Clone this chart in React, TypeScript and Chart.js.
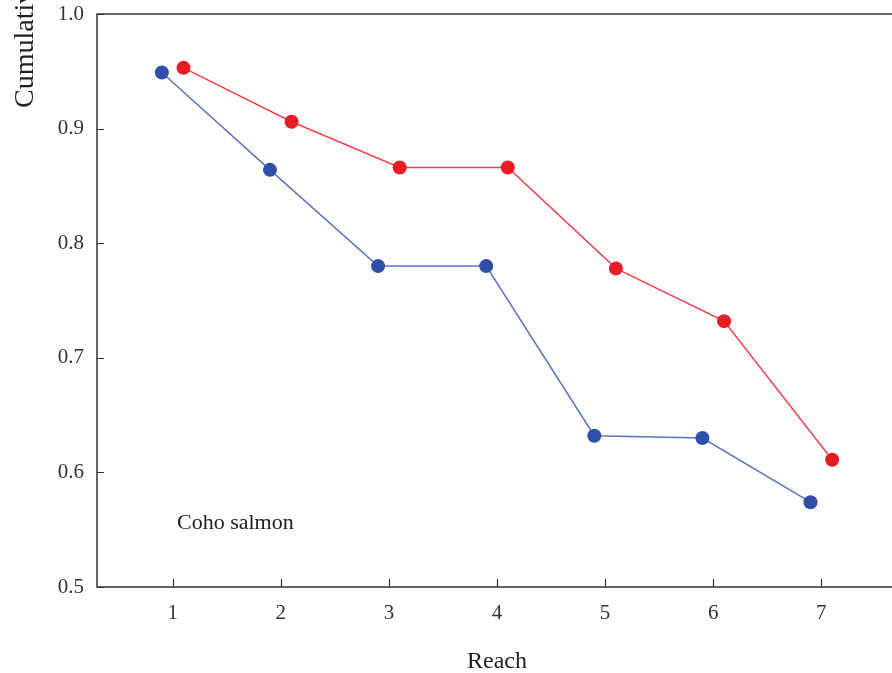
import React, { useEffect, useRef } from "react";
import { Chart, registerables } from "chart.js";

Chart.register(...registerables);

const reaches = [1, 2, 3, 4, 5, 6, 7];
const blueValues = [0.949, 0.864, 0.78, 0.78, 0.632, 0.63, 0.574];
const redValues = [0.953, 0.906, 0.866, 0.866, 0.778, 0.732, 0.611];
const xTicks = [1, 2, 3, 4, 5, 6, 7];
const yTicks = [0.5, 0.6, 0.7, 0.8, 0.9, 1.0];
const yTickLabels = ["0.5", "0.6", "0.7", "0.8", "0.9", "1.0"];
const xTitle = "Reach";
const yTitle = "Cumulative survival probability";
const annotation = "Coho salmon";

const SERIF = "'Liberation Serif', 'Times New Roman', serif";

export default function App() {
  const ref = useRef<HTMLCanvasElement | null>(null);
  useEffect(() => {
    if (!ref.current) return;
    const framePlugin = {
      id: "frame",
      afterDraw(chart: any) {
        const { ctx, chartArea: a, scales } = chart;
        const xs = scales.x, ys = scales.y;
        ctx.save();
        ctx.strokeStyle = "#333";
        ctx.lineWidth = 1.5;
        ctx.strokeRect(a.left, a.top, a.right - a.left, a.bottom - a.top);
        ctx.lineWidth = 1.2;
        ctx.beginPath();
        xTicks.forEach((v) => {
          const px = Math.round(xs.getPixelForValue(v)) + 0.5;
          ctx.moveTo(px, a.bottom);
          ctx.lineTo(px, a.bottom - 8);
        });
        yTicks.forEach((v) => {
          const py = Math.round(ys.getPixelForValue(v)) + 0.5;
          ctx.moveTo(a.left, py);
          ctx.lineTo(a.left + 7, py);
        });
        ctx.stroke();
        ctx.fillStyle = "#222";
        ctx.font = `22px ${SERIF}`;
        ctx.textAlign = "left";
        ctx.textBaseline = "middle";
        ctx.fillText(annotation, xs.getPixelForValue(1.04), ys.getPixelForValue(0.556));
        ctx.font = `24px ${SERIF}`;
        ctx.textAlign = "center";
        ctx.textBaseline = "alphabetic";
        ctx.fillText(xTitle, (a.left + a.right) / 2, 668);
        ctx.translate(33, 108);
        ctx.rotate(-Math.PI / 2);
        ctx.font = `28px ${SERIF}`;
        ctx.textAlign = "left";
        ctx.textBaseline = "alphabetic";
        ctx.fillText(yTitle, 0, 0);
        ctx.restore();
      },
    };
    const chart = new Chart(ref.current, {
      type: "line",
      data: {
        datasets: [
          {
            data: reaches.map((r, i) => ({ x: r - 0.1, y: blueValues[i] })),
            borderColor: "#5b74c2",
            backgroundColor: "#2f4fa8",
            pointBackgroundColor: "#2f4fa8",
            pointBorderColor: "#2f4fa8",
            borderWidth: 1.5,
            pointRadius: 7,
            pointBorderWidth: 0,
          },
          {
            data: reaches.map((r, i) => ({ x: r + 0.1, y: redValues[i] })),
            borderColor: "#f0424a",
            backgroundColor: "#e81c25",
            pointBackgroundColor: "#e81c25",
            pointBorderColor: "#e81c25",
            borderWidth: 1.5,
            pointRadius: 7,
            pointBorderWidth: 0,
          },
        ],
      },
      options: {
        animation: false,
        responsive: false,
        layout: { padding: { left: 0, top: 14, right: 7, bottom: 0 } },
        plugins: { legend: { display: false }, tooltip: { enabled: false } },
        scales: {
          x: {
            type: "linear",
            min: 0.3,
            max: 7.7,
            grid: { display: false, drawTicks: false },
            border: { display: false },
            afterBuildTicks: (s: any) => {
              s.ticks = xTicks.map((v) => ({ value: v }));
            },
            afterFit: (s: any) => {
              s.height = 86;
              s.paddingLeft = 0;
              s.paddingRight = 0;
            },
            ticks: {
              padding: 14,
              color: "#333",
              font: { family: SERIF, size: 21 },
              callback: (v: any) => String(v),
              maxRotation: 0,
            },
          },
          y: {
            min: 0.5,
            max: 1.0,
            grid: { display: false, drawTicks: false },
            border: { display: false },
            afterBuildTicks: (s: any) => {
              s.ticks = yTicks.map((v) => ({ value: v }));
            },
            afterFit: (s: any) => {
              s.width = 97;
              s.paddingTop = 0;
              s.paddingBottom = 0;
            },
            ticks: {
              padding: 13,
              color: "#333",
              font: { family: SERIF, size: 21 },
              callback: (v: any) => {
                const i = yTicks.findIndex((t) => Math.abs(t - v) < 1e-6);
                return i >= 0 ? yTickLabels[i] : "";
              },
            },
          },
        },
      },
      plugins: [framePlugin],
    } as any);
    return () => chart.destroy();
  }, []);
  return (
    <div
      style={{
        position: "fixed",
        left: 0,
        top: 0,
        width: 892,
        height: 673,
        overflow: "hidden",
        background: "#fff",
      }}
    >
      <canvas ref={ref} width={904} height={673} style={{ display: "block", width: 904, height: 673 }} />
    </div>
  );
}
